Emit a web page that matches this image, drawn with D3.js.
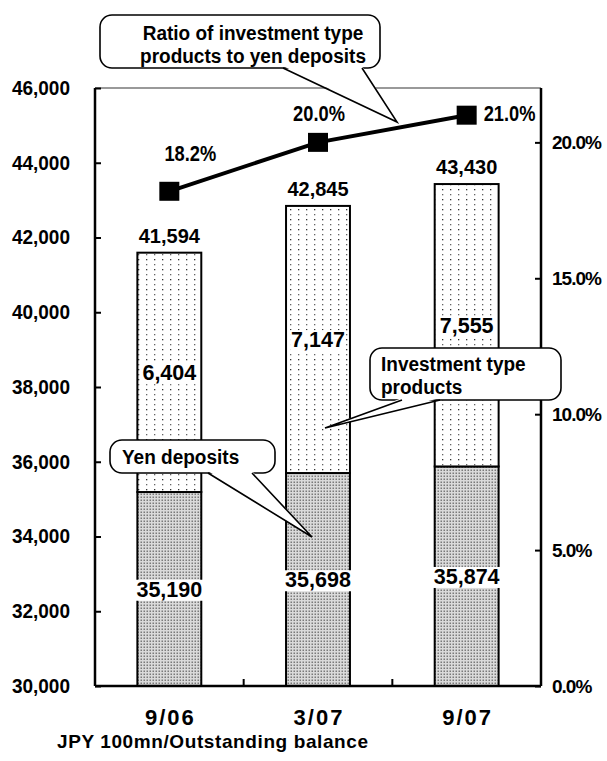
<!DOCTYPE html>
<html>
<head>
<meta charset="utf-8">
<script src="https://cdn.jsdelivr.net/npm/d3@7"></script>
<style>
body{margin:0;background:#fff;}
text{font-family:"Liberation Sans",Arial,sans-serif;font-weight:bold;fill:#000;}
</style>
</head>
<body>
<div id="chart"></div>
<script>
// data
const periods = ["9/06", "3/07", "9/07"];
const yenDeposits = [35190, 35698, 35874];
const investProducts = [6404, 7147, 7555];
const totals = [41594, 42845, 43430];
const ratios = [18.2, 20.0, 21.0];
const leftTicks = [30000, 32000, 34000, 36000, 38000, 40000, 42000, 44000, 46000];
const rightTicks = [0, 5, 10, 15, 20];

const width = 607, height = 761;
const margin = {top: 88, right: 66, bottom: 75, left: 95};
const plotW = width - margin.left - margin.right;
const plotH = height - margin.top - margin.bottom;

let svg = d3.select("#chart").append("svg")
    .attr("width", width)
    .attr("height", height);

// squeeze glyphs horizontally (reference uses a narrow gothic face)
function condense(sel, k) {
    sel.each(function () {
        let w = this.getComputedTextLength();
        d3.select(this).attr("textLength", w * k).attr("lengthAdjust", "spacingAndGlyphs");
    });
}

// patterns
let defs = svg.append("defs");
let pInv = defs.append("pattern").attr("id", "invPat")
    .attr("patternUnits", "userSpaceOnUse").attr("width", 8).attr("height", 10);
pInv.append("rect").attr("width", 8).attr("height", 10).attr("fill", "#fff");
pInv.append("rect").attr("x", 3).attr("y", 1).attr("width", 1.3).attr("height", 1.3).attr("fill", "#333");
pInv.append("rect").attr("x", 3).attr("y", 6).attr("width", 1.3).attr("height", 1.3).attr("fill", "#666");

let pYen = defs.append("pattern").attr("id", "yenPat")
    .attr("patternUnits", "userSpaceOnUse").attr("width", 3).attr("height", 3);
pYen.append("rect").attr("width", 3).attr("height", 3).attr("fill", "#dadada");
pYen.append("rect").attr("x", 0.5).attr("y", 0.5).attr("width", 1.5).attr("height", 1.5).attr("fill", "#7a7a7a");

let g = svg.append("g").attr("transform", `translate(${margin.left},${margin.top})`);

// scales
let x = d3.scaleBand().domain(periods).range([0, plotW]).paddingInner(0.57).paddingOuter(0.285);
let y = d3.scaleLinear().domain([30000, 46000]).range([plotH, 0]);
let y2 = d3.scaleLinear().domain([0, 22]).range([plotH, 0]);

// top border
g.append("line").attr("x1", 0).attr("x2", plotW).attr("y1", 0).attr("y2", 0)
    .attr("stroke", "#999").attr("stroke-width", 2);

// bars
let rows = periods.map((p, i) => ({p: p, yen: yenDeposits[i], inv: investProducts[i], tot: totals[i], r: ratios[i]}));

g.selectAll(".yen").data(rows).enter().append("rect")
    .attr("x", d => x(d.p))
    .attr("width", x.bandwidth())
    .attr("y", d => y(d.yen))
    .attr("height", d => y(30000) - y(d.yen))
    .attr("fill", "url(#yenPat)")
    .attr("stroke", "#000").attr("stroke-width", 2);

g.selectAll(".inv").data(rows).enter().append("rect")
    .attr("x", d => x(d.p))
    .attr("width", x.bandwidth())
    .attr("y", d => y(d.tot))
    .attr("height", d => y(d.yen) - y(d.tot))
    .attr("fill", "url(#invPat)")
    .attr("stroke", "#000").attr("stroke-width", 2);

// axes
let leftAxis = g.append("g").call(d3.axisLeft(y).tickValues(leftTicks).tickSize(-6).tickPadding(25).tickFormat(d3.format(",")));
let rightAxis = g.append("g").attr("transform", `translate(${plotW},0)`)
    .call(d3.axisRight(y2).tickValues(rightTicks).tickSize(-6).tickPadding(11).tickFormat(d => d.toFixed(1) + "%"));
let bottomAxis = g.append("g").attr("transform", `translate(0,${plotH})`)
    .call(d3.axisBottom(x).tickSize(0).tickPadding(19));

[leftAxis, rightAxis, bottomAxis].forEach(a => {
    a.select(".domain").attr("stroke", "#000").attr("stroke-width", 2.5);
    a.selectAll(".tick line").attr("stroke", "#000").attr("stroke-width", 2);
    a.selectAll("text").attr("font-family", null).attr("font-size", null);
});
leftAxis.selectAll("text").style("font-size", "20px").call(condense, 0.95);
rightAxis.selectAll("text").style("font-size", "19px").style("letter-spacing", "-1px");
bottomAxis.selectAll("text").style("font-size", "22px").style("letter-spacing", "2px")
    .attr("dx", "1px").attr("dy", "0.9em");
leftAxis.select(".domain").attr("d", `M0,${plotH}V0`);
rightAxis.select(".domain").attr("d", `M0,${plotH}V0`);
bottomAxis.select(".domain").attr("d", `M0,0H${plotW}`);

// category boundary ticks on bottom axis
let step = x.step();
g.selectAll(".btick").data(periods.slice(1)).enter().append("line")
    .attr("x1", d => x(d) - (step - x.bandwidth()) / 2)
    .attr("x2", d => x(d) - (step - x.bandwidth()) / 2)
    .attr("y1", plotH).attr("y2", plotH - 7)
    .attr("stroke", "#000").attr("stroke-width", 2);

// value labels inside segments with white background
function boxedLabel(sel, tx, ty, txt) {
    let t = sel.append("text").attr("x", tx).attr("y", ty)
        .attr("text-anchor", "middle").attr("dy", "0.36em")
        .style("font-size", "21.5px").text(txt);
    let bb = t.node().getBBox();
    sel.insert("rect", () => t.node())
        .attr("x", bb.x - 1).attr("y", bb.y + 2)
        .attr("width", bb.width + 2).attr("height", bb.height - 3)
        .attr("fill", "#fff");
}
let fmt = d3.format(",");
rows.forEach(d => {
    let cx = x(d.p) + x.bandwidth() / 2;
    boxedLabel(g, cx, (y(d.yen) + y(30000)) / 2, fmt(d.yen));
    boxedLabel(g, cx, (y(d.tot) + y(d.yen)) / 2, fmt(d.inv));
    g.append("text").attr("x", cx).attr("y", y(d.tot) - 10)
        .attr("text-anchor", "middle").style("font-size", "20px")
        .text(fmt(d.tot));
});

// ratio line
let line = d3.line().x(d => x(d.p) + x.bandwidth() / 2).y(d => y2(d.r));
g.append("path").datum(rows).attr("d", line)
    .attr("fill", "none").attr("stroke", "#000").attr("stroke-width", 4);
g.selectAll(".mk").data(rows).enter().append("rect")
    .attr("x", d => x(d.p) + x.bandwidth() / 2 - 10)
    .attr("y", d => y2(d.r) - 9.5)
    .attr("width", 20).attr("height", 19).attr("fill", "#000");

// ratio labels (offsets relative to markers)
const ratioLabelOffset = [[21, -30, "middle"], [1, -21, "middle"], [17, 6, "start"]];
rows.forEach((d, i) => {
    let o = ratioLabelOffset[i];
    g.append("text")
        .attr("x", x(d.p) + x.bandwidth() / 2 + o[0])
        .attr("y", y2(d.r) + o[1])
        .attr("text-anchor", o[2])
        .style("font-size", "22px")
        .text(d.r.toFixed(1) + "%").call(condense, 0.83);
});

// callouts (page coordinates)
function callout(box, tail, lines, anchor) {
    let c = svg.append("g");
    c.append("rect").attr("x", box[0]).attr("y", box[1]).attr("width", box[2]).attr("height", box[3])
        .attr("rx", 12).attr("ry", 12)
        .attr("fill", "#fff").attr("stroke", "#000").attr("stroke-width", 1.6);
    c.append("path")
        .attr("d", `M${tail[0][0]},${tail[0][1] - 2}L${tail[1][0]},${tail[1][1]}L${tail[2][0]},${tail[2][1] - 2}Z`)
        .attr("fill", "#fff");
    c.append("path")
        .attr("d", `M${tail[0][0]},${tail[0][1]}L${tail[1][0]},${tail[1][1]}L${tail[2][0]},${tail[2][1]}`)
        .attr("fill", "none").attr("stroke", "#000").attr("stroke-width", 1.6);
    lines.forEach(l => {
        c.append("text").attr("x", l[0]).attr("y", l[1])
            .attr("text-anchor", anchor).style("font-size", "20px")
            .text(l[2]).call(condense, 0.95);
    });
}
callout([100, 15, 280, 53], [[283, 68], [397, 122], [362, 68]],
    [[253, 40, "Ratio of investment type"], [253, 63, "products to yen deposits"]], "middle");
callout([370, 348, 191, 52], [[402, 400], [325, 428], [440, 400]],
    [[381, 371, "Investment type"], [381, 394, "products"]], "start");
callout([110, 440, 165, 33], [[208, 473], [312, 537], [252, 473]],
    [[122, 464, "Yen deposits"]], "start");

// unit note
svg.append("text").attr("x", 57).attr("y", 748).style("font-size", "19px").style("letter-spacing", "0.6px")
    .text("JPY 100mn/Outstanding balance");
</script>
</body>
</html>
